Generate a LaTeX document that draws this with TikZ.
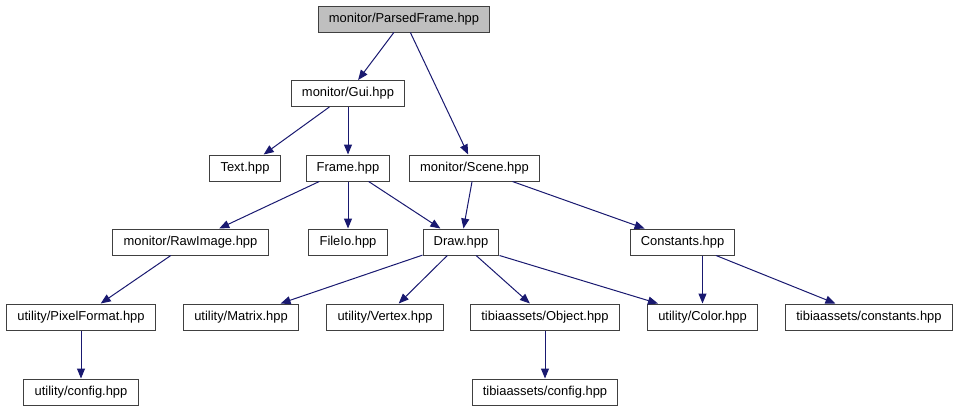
\documentclass[tikz,border=0pt]{standalone}
\usepackage{fontspec}
\setmainfont{Liberation Sans}
\usepackage{tikz}
\usetikzlibrary{arrows.meta}
\definecolor{edgeblue}{HTML}{191970}
\definecolor{rootgray}{HTML}{BFBFBF}

\begin{document}
\begin{tikzpicture}[x=0.75pt, y=-0.75pt,
  file/.style={draw=black!75, line width=0.75pt, fill=white, minimum height=19.5pt,
    inner xsep=8pt, inner ysep=0pt, font=\fontsize{9.7}{11}\selectfont},
  inc/.style={-{Triangle[length=7.5pt, width=6pt]}, draw=edgeblue, line width=0.75pt}
]
  \useasboundingbox (0,0) rectangle (960,411);
  \node[file, fill=rootgray] (parsed) at (404,19) {monitor/ParsedFrame.hpp};
  \node[file] (gui) at (348,93.5) {monitor/Gui.hpp};
  \node[file] (text) at (245,168) {Text.hpp};
  \node[file] (frame) at (348,168) {Frame.hpp};
  \node[file] (scene) at (474.5,168) {monitor/Scene.hpp};
  \node[file] (raw) at (190.5,242) {monitor/RawImage.hpp};
  \node[file] (fileio) at (348,242) {FileIo.hpp};
  \node[file] (draw) at (461,242) {Draw.hpp};
  \node[file] (consts) at (682.5,242) {Constants.hpp};
  \node[file] (pixfmt) at (81,317) {utility/PixelFormat.hpp};
  \node[file] (matrix) at (241,317) {utility/Matrix.hpp};
  \node[file] (vertex) at (385,317) {utility/Vertex.hpp};
  \node[file] (object) at (545,317) {tibiaassets/Object.hpp};
  \node[file] (color) at (702.5,317) {utility/Color.hpp};
  \node[file] (tconsts) at (869,317) {tibiaassets/constants.hpp};
  \node[file] (uconfig) at (81,392) {utility/config.hpp};
  \node[file] (tconfig) at (545,392) {tibiaassets/config.hpp};
  \draw[inc] (parsed) -- (gui);
  \draw[inc] (parsed) -- (scene);
  \draw[inc] (gui) -- (text);
  \draw[inc] (gui) -- (frame);
  \draw[inc] (frame) -- (raw);
  \draw[inc] (frame) -- (fileio);
  \draw[inc] (frame) -- (draw);
  \draw[inc] (scene) -- (draw);
  \draw[inc] (scene) -- (consts);
  \draw[inc] (raw) -- (pixfmt);
  \draw[inc] (draw) -- (matrix);
  \draw[inc] (draw) -- (vertex);
  \draw[inc] (draw) -- (object);
  \draw[inc] (draw.south east) -- (color);
  \draw[inc] (consts.south -| color.north) -- (color.north);
  \draw[inc] (consts) -- (tconsts);
  \draw[inc] (pixfmt) -- (uconfig);
  \draw[inc] (object) -- (tconfig);
\end{tikzpicture}
\end{document}
